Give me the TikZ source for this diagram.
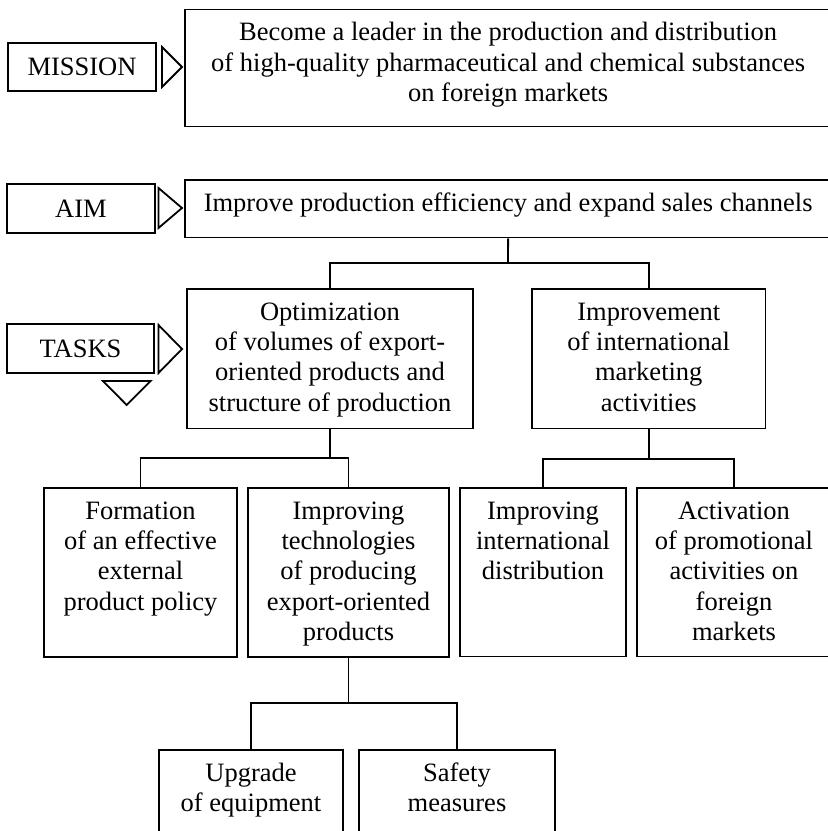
\documentclass[tikz,border=0pt]{standalone}
\usepackage{fontspec}
\setmainfont{Liberation Serif}
\usetikzlibrary{fit}
\newcommand\fl{\rule{0pt}{20pt}}
\tikzset{
  box/.style={draw, line width=1.8pt, inner sep=0pt, rectangle},
  lbl/.style={draw, line width=1.8pt, inner sep=0pt, rectangle, minimum height=48.5pt},
  txt/.style={inner sep=0pt, align=center, anchor=north},
  tri/.style={draw, line width=1.8pt, line join=miter},
  conn/.style={draw, line width=1.8pt},
  every node/.style={font=\fontsize{26.5pt}{30.3pt}\selectfont}
}
\begin{document}
\begin{tikzpicture}[x=1pt,y=-1pt]
\path[use as bounding box] (0,0) rectangle (828,831);
\clip (0,0) rectangle (828,831);

% left labels
\node[lbl, minimum width=148pt] (lmission) at (82,67) {MISSION};
\node[lbl, minimum width=148pt] (laim) at (81,208.5) {AIM};
\node[lbl, minimum width=147pt] (ltasks) at (80.5,348.5) {TASKS};

% triangles
\draw[tri] (162,47) -- (162,87) -- (182,67) -- cycle;
\draw[tri] (158.5,188) -- (158.5,228) -- (182,208) -- cycle;
\draw[tri] (158.5,325) -- (158.5,373) -- (182,349) -- cycle;
\draw[tri] (103,381) -- (150.5,381) -- (126.7,405) -- cycle;

% main boxes
\node[box, fit={(185.3,9.5) (831,126.5)}] (mission) {};
\node[txt] at ([yshift=-12pt]mission.north) {\fl Become a leader in the production and distribution\\of high-quality pharmaceutical and chemical substances\\on foreign markets};

\node[box, fit={(185.3,180) (831,237.5)}] (aim) {};
\node[txt] at ([yshift=-12pt]aim.north) {\fl Improve production efficiency and expand sales channels};

\node[box, fit={(187,289) (473,428.5)}] (opt) {};
\node[txt] at ([yshift=-12pt]opt.north) {\fl Optimization\\of volumes of export-\\oriented products and\\structure of production};

\node[box, fit={(532,289) (765.5,428.5)}] (impr) {};
\node[txt] at ([yshift=-12pt]impr.north) {\fl Improvement\\of international\\marketing\\activities};

\node[box, fit={(44,488) (237,657)}] (form) {};
\node[txt] at ([yshift=-12pt]form.north) {\fl Formation\\of an effective\\external\\product policy};

\node[box, fit={(248,488) (449,657)}] (tech) {};
\node[txt] at ([yshift=-12pt]tech.north) {\fl Improving\\technologies\\of producing\\export-oriented\\products};

\node[box, fit={(460,488) (626,656.5)}] (intl) {};
\node[txt] at ([yshift=-12pt]intl.north) {\fl Improving\\international\\distribution};

\node[box, fit={(637,488) (831,656.5)}] (act) {};
\node[txt] at ([yshift=-12pt]act.north) {\fl Activation\\of promotional\\activities on\\foreign\\markets};

\node[box, fit={(159,750) (343,870)}] (upg) {};
\node[txt] at ([yshift=-12pt]upg.north) {\fl Upgrade\\of equipment};

\node[box, fit={(359,750) (555,870)}] (safe) {};
\node[txt] at ([yshift=-12pt]safe.north) {\fl Safety\\measures};

% connectors
\coordinate (j1) at (508,263);
\draw[conn] (aim.south) -- (j1);
\draw[conn] (opt.north) |- (j1) -| (impr.north);

\coordinate (j2) at (330,458);
\draw[conn] (opt.south) -- (j2);
\draw[conn] (form.north) |- (j2) -| (tech.north);

\coordinate (j3) at (648.75,459);
\draw[conn] (impr.south) -- (j3);
\draw[conn] (intl.north) |- (j3) -| (act.north);

\coordinate (j4) at (348.5,703);
\draw[conn] (tech.south) -- (j4);
\draw[conn] (upg.north) |- (j4) -| (safe.north);
\end{tikzpicture}
\end{document}
